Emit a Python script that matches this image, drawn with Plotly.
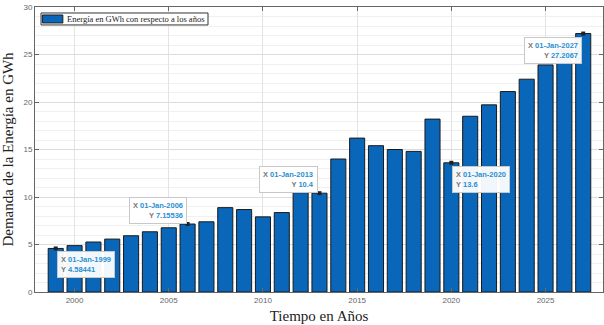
import plotly.graph_objects as go

years = list(range(1999, 2028))
energy = [4.58441, 4.88, 5.26, 5.57, 5.92, 6.34, 6.76, 7.15536, 7.39, 8.88,
          8.68, 7.91, 8.36, 10.45, 10.4, 14.0, 16.2, 15.4, 15.0, 14.8,
          18.2, 13.6, 18.5, 19.7, 21.1, 22.4, 23.9, 25.5, 27.2067]

tip_years = [1999, 2006, 2013, 2020, 2027]
tip_values = [4.58441, 7.15536, 10.4, 13.6, 27.2067]
tip_texts = ["4.58441", "7.15536", "10.4", "13.6", "27.2067"]
tip_side = ["left", "right", "right", "left", "right"]
tip_vert = ["top", "bottom", "bottom", "top", "top"]

xticks = [2000, 2005, 2010, 2015, 2020, 2025]
yticks = [0, 5, 10, 15, 20, 25, 30]

series_name = "Energía en GWh con respecto a los años"
bar_color = "#0a66b8"

fig = go.Figure()
fig.add_trace(go.Bar(
    x=years, y=energy, width=0.8,
    marker=dict(color=bar_color, line=dict(color="#1a1a1a", width=1)),
    name=series_name, showlegend=False,
))
fig.add_trace(go.Scatter(
    x=tip_years, y=tip_values, mode="markers",
    marker=dict(color="#222222", size=4, symbol="square"),
    showlegend=False, hoverinfo="skip",
))

for yr, val, txt, side, vert in zip(tip_years, tip_values, tip_texts, tip_side, tip_vert):
    label = ("<span style='color:#777'>X</span> 01-Jan-%d<br><span style='color:#777'>Y</span> %s" % (yr, txt))
    fig.add_annotation(
        x=yr, y=val, text=label, showarrow=False,
        xanchor=side, yanchor=vert, align=side,
        xshift=(-1 if side == "right" else 1) * 1,
        yshift=(-3 if vert == "top" else 0),
        font=dict(family="Liberation Sans", size=7.5, color="#2a8fd0", weight="bold"),
        bgcolor="rgba(255,255,255,0.95)", bordercolor="#c8c8c8", borderwidth=1, borderpad=3,
    )

# MATLAB-style legend box (inside top-left)
fig.add_shape(type="rect", xref="paper", yref="paper", x0=0.0106, x1=0.3046, y0=0.937, y1=0.979,
              line=dict(color="#333333", width=1), fillcolor="white", layer="above")
fig.add_shape(type="rect", xref="paper", yref="paper", x0=0.013, x1=0.049, y0=0.944, y1=0.972,
              line=dict(color="#1a1a1a", width=1), fillcolor=bar_color, layer="above")
fig.add_annotation(xref="paper", yref="paper", x=0.053, y=0.958, text=series_name,
                   showarrow=False, xanchor="left", yanchor="middle",
                   font=dict(family="Liberation Serif", size=8.5, color="#222"))

fig.update_layout(
    width=604, height=325,
    margin=dict(l=35, r=1, t=7, b=33),
    paper_bgcolor="white", plot_bgcolor="white",
    bargap=0.2,
    showlegend=False,
    font=dict(family="Liberation Sans"),
)
fig.update_xaxes(
    range=[1997.9, 2028.05], tickvals=xticks, ticktext=[str(t) for t in xticks],
    showgrid=True, gridcolor="#e3e3e3", gridwidth=1,
    showline=True, linecolor="#666666", mirror="ticks", ticks="inside", ticklen=4, tickcolor="#666666",
    tickfont=dict(size=8, color="#666666"),
    title=dict(text="Tiempo en Años", font=dict(family="Liberation Serif", size=15, color="#222"), standoff=6),
    zeroline=False,
)
fig.update_yaxes(
    range=[0, 30], tickvals=yticks,
    showgrid=True, gridcolor="#dcdcdc", gridwidth=1,
    minor=dict(dtick=1, showgrid=True, gridcolor="#f0f0f0", ticks=""),
    showline=True, linecolor="#666666", mirror="ticks", ticks="inside", ticklen=4, tickcolor="#666666",
    tickfont=dict(size=8, color="#666666"),
    title=dict(text="Demanda de la Energía en GWh", font=dict(family="Liberation Serif", size=15, color="#222"), standoff=8),
    zeroline=False,
)

fig.write_html("out.html", config={"displayModeBar": False},
               post_script="document.body.style.margin='0';document.body.style.padding='0';")
